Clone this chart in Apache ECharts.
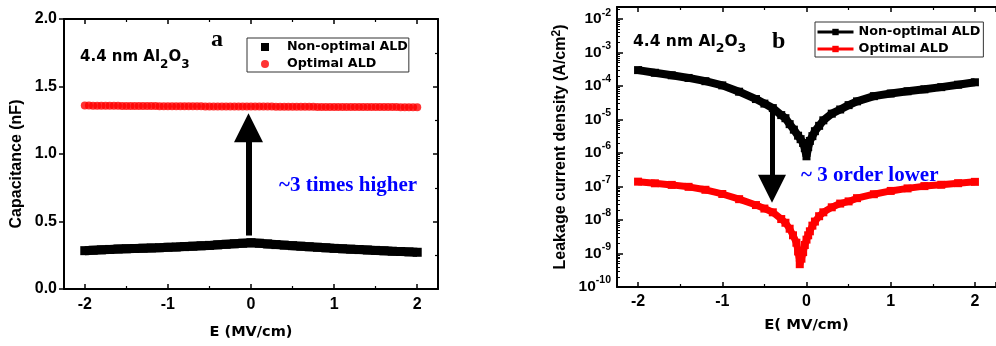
<!DOCTYPE html>
<html><head><meta charset="utf-8">
<script src="https://cdn.jsdelivr.net/npm/echarts@6/dist/echarts.min.js"></script>
<style>html,body{margin:0;padding:0;background:#fff}#c{width:996px;height:346px}</style>
</head><body><div id="c"></div>
<script>
// ---------- Panel a: capacitance vs field ----------
const capFieldCoarse = [-2.0,-1.9,-1.8,-1.7,-1.6,-1.5,-1.4,-1.3,-1.2,-1.1,-1.0,-0.9,-0.8,-0.7,-0.6,-0.5,-0.4,-0.3,-0.2,-0.1,0.0,0.1,0.2,0.3,0.4,0.5,0.6,0.7,0.8,0.9,1.0,1.1,1.2,1.3,1.4,1.5,1.6,1.7,1.8,1.9,2.0];
const capNonOptimal = [0.284,0.287,0.290,0.293,0.296,0.298,0.300,0.302,0.304,0.306,0.309,0.311,0.314,0.317,0.320,0.323,0.327,0.331,0.335,0.339,0.343,0.339,0.334,0.329,0.325,0.321,0.317,0.313,0.309,0.305,0.301,0.298,0.295,0.292,0.289,0.286,0.283,0.280,0.278,0.275,0.272];
const capFieldDense = [-2.00,-1.95,-1.90,-1.85,-1.80,-1.75,-1.70,-1.65,-1.60,-1.55,-1.50,-1.45,-1.40,-1.35,-1.30,-1.25,-1.20,-1.15,-1.10,-1.05,-1.00,-0.95,-0.90,-0.85,-0.80,-0.75,-0.70,-0.65,-0.60,-0.55,-0.50,-0.45,-0.40,-0.35,-0.30,-0.25,-0.20,-0.15,-0.10,-0.05,0.00,0.05,0.10,0.15,0.20,0.25,0.30,0.35,0.40,0.45,0.50,0.55,0.60,0.65,0.70,0.75,0.80,0.85,0.90,0.95,1.00,1.05,1.10,1.15,1.20,1.25,1.30,1.35,1.40,1.45,1.50,1.55,1.60,1.65,1.70,1.75,1.80,1.85,1.90,1.95,2.00];
const capOptimal = [
1.359,1.359,1.358,1.358,1.358,1.357,1.357,1.357,1.357,1.356,
1.356,1.356,1.356,1.355,1.355,1.355,1.355,1.355,1.354,1.354,
1.354,1.354,1.354,1.353,1.353,1.353,1.353,1.353,1.353,1.352,
1.352,1.352,1.352,1.352,1.352,1.352,1.352,1.351,1.351,1.351,
1.351,1.351,1.351,1.351,1.351,1.351,1.350,1.350,1.350,1.350,
1.350,1.350,1.350,1.350,1.350,1.350,1.349,1.349,1.349,1.349,
1.349,1.349,1.349,1.349,1.349,1.349,1.349,1.348,1.348,1.348,
1.348,1.348,1.348,1.348,1.348,1.348,1.347,1.347,1.347,1.347,1.347];
const capTickLabels = ['0.0','0.5','1.0','1.5','2.0'];

// ---------- Panel b: leakage current density vs field ----------
const jFieldNon = [-2.0,-1.8,-1.6,-1.4,-1.2,-1.0,-0.8,-0.6,-0.5,-0.4,-0.3,-0.25,-0.2,-0.15,-0.1,-0.07,-0.04,-0.02,0.0,0.02,0.04,0.07,0.1,0.15,0.2,0.3,0.4,0.5,0.6,0.8,1.0,1.2,1.4,1.6,1.8,2.0];
const jNonOptimal = [3.0e-4,2.5e-4,2.1e-4,1.75e-4,1.4e-4,1.05e-4,6.8e-5,4.1e-5,3.0e-5,2.2e-5,1.36e-5,1.1e-5,7.3e-6,5.0e-6,3.3e-6,2.6e-6,2.0e-6,1.4e-6,8.0e-7,1.5e-6,2.3e-6,3.2e-6,4.5e-6,6.5e-6,9.5e-6,1.5e-5,2.0e-5,2.7e-5,3.5e-5,5.0e-5,6.0e-5,7.0e-5,8.0e-5,9.3e-5,1.1e-4,1.3e-4];
const jFieldOpt = [-2.0,-1.8,-1.6,-1.4,-1.2,-1.0,-0.8,-0.6,-0.5,-0.4,-0.3,-0.25,-0.2,-0.16,-0.12,-0.1,-0.08,-0.06,-0.04,-0.02,0.0,0.02,0.04,0.07,0.1,0.15,0.2,0.3,0.4,0.5,0.6,0.8,1.0,1.2,1.4,1.6,1.8,2.0];
const jOptimal = [1.4e-7,1.25e-7,1.12e-7,9.8e-8,8.0e-8,6.0e-8,4.2e-8,2.8e-8,2.2e-8,1.7e-8,1.07e-8,8.3e-9,5.5e-9,3.5e-9,2.1e-9,1.15e-9,4.8e-10,7.0e-10,1.1e-9,1.8e-9,2.6e-9,3.5e-9,4.6e-9,6.8e-9,9.0e-9,1.3e-8,1.7e-8,2.4e-8,3.1e-8,3.6e-8,4.5e-8,5.9e-8,7.4e-8,8.8e-8,1.03e-7,1.13e-7,1.26e-7,1.38e-7];

// annotation arrows (data coordinates)
const arrowA = {x: -0.03, from: 0.396, to: 1.194};
const arrowB = {x: -0.41, from: 1.74e-5, to: 8.6e-8};

const zip = (xs, ys) => ys.map((v, i) => [xs[i], v]);
const SANS = 'Liberation Sans';
const WIDE = 'DejaVu Sans';

function frameAxis(extra) {
  return Object.assign({
    axisLine: {show: true, onZero: false, lineStyle: {color: '#000', width: 2}},
    splitLine: {show: false},
    axisLabel: {show: false},
    axisTick: {show: true, inside: true, length: 5, lineStyle: {color: '#000', width: 1.5}},
    minorTick: {show: true, splitNumber: 2, length: 3, lineStyle: {color: '#000', width: 1.2}}
  }, extra);
}
const tickLabel = {fontFamily: SANS, fontWeight: 'bold', fontSize: 16, color: '#000', lineHeight: 18};

const chart = echarts.init(document.getElementById('c'), null, {renderer: 'canvas'});
chart.setOption({
  animation: false,
  backgroundColor: '#fff',
  grid: [
    {left: 64, top: 19, right: 558, bottom: 53, containLabel: false},
    {left: 617, top: 7, right: -7, bottom: 59, containLabel: false}
  ],
  xAxis: [
    frameAxis({type: 'value', gridIndex: 0, position: 'bottom', min: -2.25, max: 2.25,
      name: 'E (MV/cm)', nameLocation: 'middle', nameGap: 34,
      nameTextStyle: {fontFamily: WIDE, fontWeight: 'bold', fontSize: 14.5, color: '#000', lineHeight: 18},
      axisLabel: Object.assign({show: true, margin: 7, showMinLabel: false, showMaxLabel: false}, tickLabel)}),
    frameAxis({type: 'value', gridIndex: 0, position: 'top', min: -2.25, max: 2.25}),
    frameAxis({type: 'value', gridIndex: 1, position: 'bottom', min: -2.25, max: 2.25,
      name: 'E( MV/cm)', nameLocation: 'middle', nameGap: 27,
      nameTextStyle: {fontFamily: WIDE, fontWeight: 'bold', fontSize: 14.8, color: '#000', lineHeight: 18},
      axisLabel: Object.assign({show: true, margin: 6, showMinLabel: false, showMaxLabel: false}, tickLabel)}),
    frameAxis({type: 'value', gridIndex: 1, position: 'top', min: -2.25, max: 2.25})
  ],
  yAxis: [
    frameAxis({type: 'value', gridIndex: 0, position: 'left', min: 0, max: 2, interval: 0.5,
      name: 'Capacitance (nF)', nameLocation: 'middle', nameGap: 38,
      nameTextStyle: {fontFamily: SANS, fontWeight: 'bold', fontSize: 16, color: '#000', lineHeight: 18, padding: [0, 20, 0, 0]},
      axisTick: {show: true, inside: false, length: 5, lineStyle: {color: '#000', width: 1.5}},
      minorTick: {show: false},
      axisLabel: Object.assign({show: true, margin: 7,
        formatter: v => capTickLabels[Math.round(v / 0.5)] || ''}, tickLabel)}),
    frameAxis({type: 'value', gridIndex: 0, position: 'right', min: 0, max: 2, interval: 0.5}),
    frameAxis({type: 'log', gridIndex: 1, position: 'left', min: 1e-10, max: 0.023, logBase: 10,
      name: 'Leakage current density (A/cm{e|2})', nameLocation: 'middle', nameGap: 46,
      nameTextStyle: {fontFamily: SANS, fontWeight: 'bold', fontSize: 16, color: '#000', lineHeight: 20,
        rich: {e: {fontFamily: SANS, fontWeight: 'bold', fontSize: 12, lineHeight: 10, verticalAlign: 'top', color: '#000'}}},
      axisTick: {show: true, inside: true, length: 6, lineStyle: {color: '#000', width: 1.5}},
      minorTick: {show: true, splitNumber: 9, length: 3, lineStyle: {color: '#000', width: 1}},
      axisLabel: {show: true, margin: 6, showMaxLabel: false,
        formatter: v => {
          const l = Math.log10(v), e = Math.round(l);
          if (Math.abs(l - e) > 1e-6) return '';
          return '{b|10}{e|' + e + '}';
        },
        rich: {
          b: {fontFamily: SANS, fontWeight: 'bold', fontSize: 15.5, lineHeight: 24, color: '#000'},
          e: {fontFamily: SANS, fontWeight: 'bold', fontSize: 10.5, lineHeight: 10, verticalAlign: 'top', color: '#000'}
        }}})
  ],
  legend: [
    {
      data: [{name: 'Non-optimal ALD', icon: 'rect'}, {name: 'Optimal ALD', icon: 'circle'}],
      left: 247, top: 38, orient: 'vertical', itemWidth: 8, itemHeight: 8, itemGap: 3,
      padding: [2, 1, 1, 14], borderColor: '#333', borderWidth: 1, selectedMode: false,
      textStyle: {fontFamily: WIDE, fontWeight: 'bold', fontSize: 12.7, color: '#000', lineHeight: 14, padding: [0, 0, 0, 13]}
    },
    {
      data: ['Non-optimal ALD (J)', 'Optimal ALD (J)'],
      formatter: n => n.replace(' (J)', ''),
      left: 815, top: 22, orient: 'vertical', itemWidth: 36, itemHeight: 8, itemGap: 3,
      padding: [3, 3, 1, 1], borderColor: '#333', borderWidth: 1, selectedMode: false,
      lineStyle: {width: 3},
      textStyle: {fontFamily: WIDE, fontWeight: 'bold', fontSize: 12.8, color: '#000', lineHeight: 14}
    }
  ],
  series: [
    {
      type: 'line', name: 'Non-optimal ALD', xAxisIndex: 0, yAxisIndex: 0,
      data: zip(capFieldCoarse, capNonOptimal),
      symbol: 'rect', symbolSize: 9, showSymbol: true,
      lineStyle: {color: '#000', width: 9}, itemStyle: {color: '#000'},
      emphasis: {disabled: true}, z: 3,
      markLine: {
        silent: true, symbol: ['none', 'triangle'], symbolSize: 29,
        label: {show: false}, emphasis: {disabled: true},
        lineStyle: {color: '#000', width: 6, type: 'solid'},
        data: [[{coord: [arrowA.x, arrowA.from]}, {coord: [arrowA.x, arrowA.to]}]]
      }
    },
    {
      type: 'scatter', name: 'Optimal ALD', xAxisIndex: 0, yAxisIndex: 0,
      data: zip(capFieldDense, capOptimal),
      symbol: 'circle', symbolSize: 8, itemStyle: {color: '#ff0000'},
      emphasis: {disabled: true}, z: 4
    },
    {
      type: 'line', name: 'Non-optimal ALD (J)', xAxisIndex: 2, yAxisIndex: 2,
      data: zip(jFieldNon, jNonOptimal),
      symbol: 'rect', symbolSize: 8, showSymbol: true,
      lineStyle: {color: '#000', width: 8}, itemStyle: {color: '#000'},
      emphasis: {disabled: true}, z: 3,
      markLine: {
        silent: true, symbol: ['none', 'triangle'], symbolSize: 28,
        label: {show: false}, emphasis: {disabled: true},
        lineStyle: {color: '#000', width: 5, type: 'solid'},
        data: [[{coord: [arrowB.x, arrowB.from]}, {coord: [arrowB.x, arrowB.to]}]]
      }
    },
    {
      type: 'line', name: 'Optimal ALD (J)', xAxisIndex: 2, yAxisIndex: 2,
      data: zip(jFieldOpt, jOptimal),
      symbol: 'rect', symbolSize: 8, showSymbol: true,
      lineStyle: {color: '#ff0000', width: 7}, itemStyle: {color: '#ff0000'},
      emphasis: {disabled: true}, z: 3
    }
  ],
  graphic: [
    {type: 'text', left: 80, top: 50, style: {
      text: '{m|4.4 nm Al}{s|2}{m|O}{s|3}',
      rich: {
        m: {fontFamily: WIDE, fontWeight: 'bold', fontSize: 15, lineHeight: 26, fill: '#000'},
        s: {fontFamily: WIDE, fontWeight: 'bold', fontSize: 12, lineHeight: 12, verticalAlign: 'bottom', fill: '#000'}
      }}},
    {type: 'text', left: 633, top: 34, style: {
      text: '{m|4.4 nm Al}{s|2}{m|O}{s|3}',
      rich: {
        m: {fontFamily: WIDE, fontWeight: 'bold', fontSize: 15.5, lineHeight: 26, fill: '#000'},
        s: {fontFamily: WIDE, fontWeight: 'bold', fontSize: 12.5, lineHeight: 12, verticalAlign: 'bottom', fill: '#000'}
      }}},
    {type: 'text', left: 211, top: 28, style: {text: 'a', font: 'bold 24px "Liberation Serif"', fill: '#000'}},
    {type: 'text', left: 772, top: 30, style: {text: 'b', font: 'bold 24px "Liberation Serif"', fill: '#000'}},
    {type: 'text', left: 279, top: 175, style: {text: '~3 times higher', font: 'bold 21px "Liberation Serif"', fill: '#0000ff'}},
    {type: 'text', left: 801, top: 165, style: {text: '~ 3 order lower', font: 'bold 21px "Liberation Serif"', fill: '#0000ff'}}
  ]
});
</script>
</body></html>
